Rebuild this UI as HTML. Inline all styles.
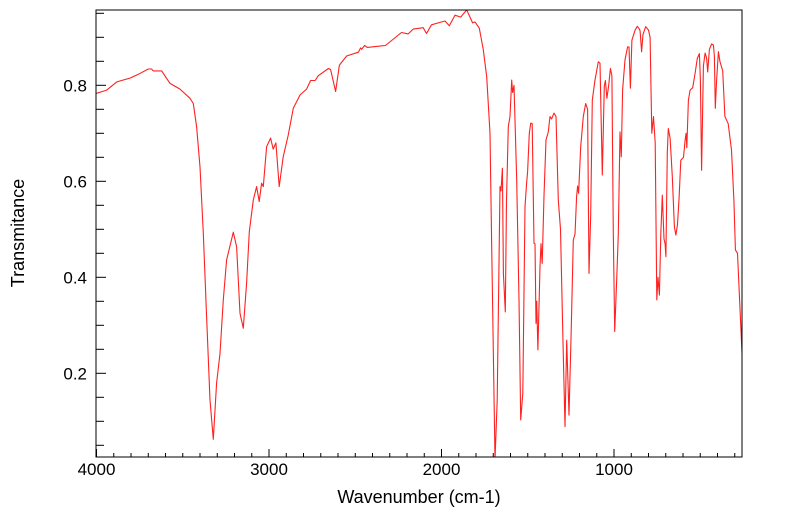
<!DOCTYPE html>
<html><head><meta charset="utf-8"><style>
html,body{margin:0;padding:0;background:#fff;}
svg{display:block;font-family:"Liberation Sans",sans-serif;}
</style></head><body>
<svg id="chart" width="799" height="516">
<g id="plot"></g>
</svg>
<script>
const wavenumbers=[4003,3941,3883,3806,3758,3700,3681,3671,3622,3574,3516,3458,3439,3420,3400,3381,3362,3342,3323,3304,3284,3265,3246,3207,3188,3168,3149,3130,3114,3091,3072,3057,3043,3033,3014,2991,2976,2960,2941,2918,2889,2859,2820,2782,2759,2733,2714,2656,2643,2614,2592,2550,2482,2469,2463,2446,2430,2325,2232,2193,2164,2106,2087,2058,2009,1980,1955,1922,1889,1854,1820,1806,1781,1758,1738,1719,1709,1690,1677,1661,1655,1647,1641,1630,1623,1613,1603,1593,1588,1580,1564,1551,1541,1529,1516,1507,1501,1491,1483,1474,1464,1458,1452,1448,1441,1429,1423,1416,1406,1394,1381,1371,1362,1348,1336,1323,1310,1297,1284,1274,1261,1249,1236,1226,1217,1211,1205,1193,1178,1164,1153,1145,1135,1126,1110,1091,1081,1068,1056,1050,1041,1031,1021,1012,1004,996,984,975,965,958,950,936,921,913,905,896,878,865,853,849,840,832,816,800,791,781,771,761,752,745,737,729,720,710,704,699,691,685,675,662,650,641,632,622,613,597,588,582,578,569,559,544,530,517,505,499,492,482,472,463,457,447,434,424,418,413,405,395,386,370,357,338,319,305,296,284,272,258];
const transmittance=[.783,.790,.807,.815,.823,.834,.834,.830,.830,.804,.792,.773,.762,.714,.630,.492,.318,.144,.0625,.18,.241,.353,.436,.494,.464,.325,.294,.388,.495,.561,.589,.558,.596,.589,.672,.690,.667,.680,.589,.651,.696,.752,.780,.792,.810,.810,.820,.835,.833,.787,.842,.861,.869,.878,.875,.883,.879,.883,.910,.907,.917,.920,.908,.926,.931,.934,.924,.946,.942,.957,.930,.932,.919,.874,.818,.700,.464,.02,.144,.589,.58,.627,.408,.328,.561,.714,.735,.811,.785,.8,.603,.353,.103,.158,.547,.596,.62,.700,.721,.72,.471,.47,.304,.35,.249,.422,.47,.429,.57,.686,.703,.735,.73,.742,.735,.561,.5,.283,.089,.269,.113,.28,.478,.49,.568,.59,.575,.672,.735,.762,.75,.408,.53,.769,.811,.849,.846,.613,.799,.81,.773,.80,.835,.82,.492,.287,.401,.49,.703,.651,.79,.853,.880,.88,.794,.894,.915,.923,.917,.913,.870,.906,.922,.915,.90,.70,.735,.68,.353,.40,.363,.49,.571,.48,.47,.443,.66,.71,.69,.61,.505,.488,.51,.57,.644,.65,.686,.70,.67,.769,.79,.795,.825,.856,.866,.81,.623,.84,.867,.857,.828,.875,.886,.884,.86,.752,.81,.87,.85,.83,.735,.72,.665,.561,.457,.45,.353,.242];
const xTicks=[4000,3000,2000,1000];
const yTicks=[0.2,0.4,0.6,0.8];

const L=96,R=742,T=10,B=457;
const X0=4003,X1=258;
function xs(w){return L+(X0-w)/(X0-X1)*(R-L);}
function ys(v){return 469.3-v*480;}
const NS='http://www.w3.org/2000/svg';
const g=document.getElementById('plot');
function mk(tag,attrs,parent){const e=document.createElementNS(NS,tag);for(const k in attrs)e.setAttribute(k,attrs[k]);(parent||g).appendChild(e);return e;}

const defs=mk('defs',{});
const cp=mk('clipPath',{id:'clip'},defs);
mk('rect',{x:L,y:T,width:R-L,height:B-T},cp);

const xt=mk('g',{});


for(let w=4000;w>=300;w-=100){
  const major=w%1000===0;
  const x=xs(w);
  mk('line',{x1:x,x2:x,y1:B,y2:B-(major?8:4),stroke:'#000','stroke-width':1},xt);
}
xTicks.forEach(w=>{
  const t=mk('text',{x:xs(w),y:475,'text-anchor':'middle','font-size':17,fill:'#000'},xt);
  
  
  t.textContent=w;
});
const yt=mk('g',{});


for(let i=1;i<=19;i++){
  const v=i*0.05;
  const y=ys(v);
  if(y<T||y>B)continue;
  const major=(i%4===0);
  mk('line',{x1:L,x2:L+(major?10:8),y1:y,y2:y,stroke:'#000','stroke-width':1},yt);
}
yTicks.forEach(v=>{
  const t=mk('text',{x:87,y:ys(v)+6,'text-anchor':'end','font-size':17,fill:'#000'},yt);
  
  
  t.textContent=v.toFixed(1);
});

const pts=wavenumbers.map((w,i)=>xs(w).toFixed(1)+','+ys(transmittance[i]).toFixed(1)).join(' ');
const line=mk('polyline',{points:pts,fill:'none',stroke:'#ff2020','stroke-width':1.1,'clip-path':'url(#clip)','stroke-linejoin':'round'});



const frame=mk('rect',{x:L,y:T,width:R-L,height:B-T,fill:'none',stroke:'#000','stroke-width':1});



const xl=mk('text',{x:419,y:503,'text-anchor':'middle','font-size':18,fill:'#000'});


xl.textContent='Wavenumber (cm-1)';
const yl=mk('text',{x:0,y:0,'text-anchor':'middle','font-size':18,fill:'#000',transform:'translate(24,233) rotate(-90)'});


yl.textContent='Transmitance';
</script>
</body></html>
